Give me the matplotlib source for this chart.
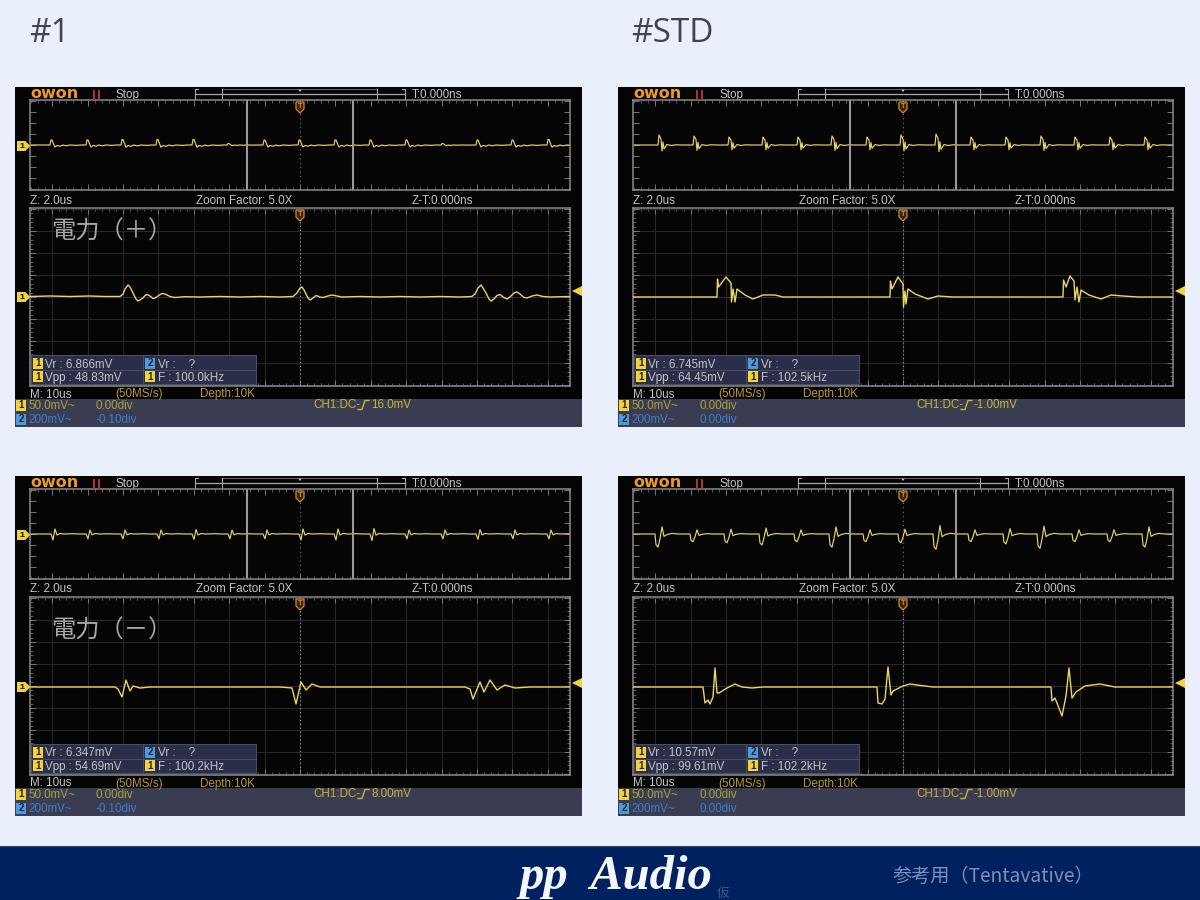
import matplotlib
matplotlib.use("Agg")
import matplotlib.pyplot as plt
from matplotlib.patches import Rectangle, Polygon
from matplotlib.ticker import MultipleLocator

SANS = ["Liberation Sans", "DejaVu Sans"]
CJK = ["Noto Sans CJK JP", "DejaVu Sans"]
plt.rcParams["font.family"] = SANS

# ---------- data ----------
titles = ["#1", "#STD", None, None]
notes = ["電力（＋）", None, "電力（－）", None]
vr_ch1 = ["6.866mV", "6.745mV", "6.347mV", "10.57mV"]
vpp_ch1 = ["48.83mV", "64.45mV", "54.69mV", "99.61mV"]
freq_ch1 = ["100.0kHz", "102.5kHz", "100.2kHz", "102.2kHz"]
ch2_pos = ["-0.10div", "0.00div", "-0.10div", "0.00div"]
trig_lvl = ["16.0mV", "-1.00mV", "8.00mV", "-1.00mV"]

# overview pulses: position on screen, height, shape
ov1_pos = [-248, -212, -177, -142, -106, -71, -35, 0, 36, 71, 107, 143, 178, 213, 249]
ov1_amp = [1, 1, 1.1, 1.1, 1.1, 0.3, 1, 1, 1, 1, 1, 0.3, 1, 1, 1.1]
ov1_sx = [-2, -1, 0, 2, 3, 5, 8, 11, 14, 18, 24, 29]
ov1_sy = [0, 5, 5, 0, -2, -0.5, -1.2, 0, -0.8, 0, -0.4, 0]

ov2_pos = [-243, -208, -173, -139, -104, -70, -35, -1, 34, 69, 104, 139, 173, 208, 243]
ov2_amp = [1, 0.9, 0.8, 0.8, 0.8, 0.9, 0.8, 1, 1.1, 0.8, 0.8, 0.9, 0.8, 0.8, 0.8]
ov2_sx = [-2, -1, 1, 2, 3, 4, 7, 11, 16, 22, 30]
ov2_sy = [0, 10, 6, -6, 3, -4, 0.5, -0.5, 0.2, 0, 0]

ov3_pos = [-247, -212, -177, -141, -106, -70, -35, 1, 36, 72, 107, 143, 178, 213, 249]
ov3_amp = [1, 0.8, 0.8, 0.8, 0.9, 0.8, 0.8, 1, 1, 1.1, 0.8, 0.8, 0.9, 0.8, 0.8]
ov3_sx = [-2, 0, 2, 4, 7, 12, 20, 27]
ov3_sy = [0, -6, 5, -1, 0.5, 0, 0.3, 0]

ov4_pos = [-245, -210, -176, -141, -106, -71, -37, -2, 33, 68, 103, 137, 172, 207, 242]
ov4_amp = [1.2, 0.7, 0.8, 1, 0.7, 1.2, 0.7, 0.8, 1.4, 0.7, 0.9, 1.3, 0.7, 0.7, 1.2]
ov4_sx = [-3, -2, 0, 2, 4, 6, 9, 14, 20, 27]
ov4_sy = [0, -9, -11, -4, 6, -2, -0.5, 0.5, 0, 0]

# zoomed traces, in screen points
big1_x = [-270, -250, -230, -210, -195, -180, -177, -175, -172, -170, -167, -164, -162, -160,
          -157, -155, -153, -150, -147, -145, -142, -139, -137, -134, -130, -125, -115,
          -100, -80, -60, -40, -20, -7, -3, 0, 2, 4, 6, 8, 10, 13, 16, 20, 23, 28, 32, 37,
          42, 60, 80, 100, 120, 140, 160, 172, 175, 178, 181, 183, 186, 189, 191, 194, 197,
          200, 203, 207, 210, 214, 217, 220, 224, 227, 232, 237, 243, 250, 270]
big1_y = [0.5, 1, 0.5, 1, 0.5, 0.5, 3, 8, 12, 10, 4, -2, -4, -3,
          -1, 1.5, 2.5, 1, -1.5, -1, 1, 3, 3.5, 2.5, 0.5, -0.5, 0.3,
          0, 0.5, 0, 0.5, 0, 0.5, 4, 9, 10, 7, 3, -1, -3, -1, 1.5, 0, -0.5, 1, 2, 1,
          0, 0.5, 0, 0.5, 0, 0.5, 0, 0.5, 3, 9, 12, 9, 4, -2, -4, -2, 1.5,
          2.5, 0, -2, 0, 4, 5, 3, -0.5, -1, 1, 2, 0.5, 0, 0.5]

big2_x = [-270, -240, -210, -186, -185.5, -184.5, -177, -172, -171.5, -170, -168, -166, -158,
          -150, -140, -128, -120, -90, -60, -30, -13, -12.5, -11, -5, 0, 0.5, 2, 3, 5,
          12, 25, 35, 50, 80, 110, 140, 160, 160.5, 163, 167, 171, 172, 174, 176, 178,
          186, 198, 208, 220, 235, 270]
big2_y = [0, 0, 0, 0, 18, 10, 20, 14, -5, 8, -5, 8, 2,
          -2, 2, 2, 0, 0, 0, 0, 0, 16, 8, 20, 13, -10, 6, -7, 8,
          3, -2, 1, 0, 0, 0, 0, 0, 17, 10, 21, 16, -3, 10, -5, 7,
          2, -2, 2, 1, 0, 0]

big3_x = [-270, -240, -210, -185, -182, -178, -174, -170, -167, -160, -150, -130, -100, -60,
          -20, -8, -4, 1, 6, 12, 20, 30, 50, 90, 130, 165, 170, 173, 180, 184, 190, 197,
          205, 215, 230, 270]
big3_y = [-1, -1, -1, -1, -3, -11, 6, -5, 0, -2, -1, -1, -1, -1,
          -1, -2, -18, 4, -4, 2, -1, -1, -1, -1, -1, -1, -3, -13, 4, -6, 6, -4,
          1, -2, -1, -1]

big4_x = [-270, -235, -200, -198, -195, -193, -190, -188, -186, -184, -176, -168, -161, -151,
          -140, -100, -60, -26, -25, -21, -18, -15, -12, -10, 0, 7, 14, 30, 70, 110, 148,
          149, 152, 159, 163, 166, 169, 173, 182, 197, 212, 227, 270]
big4_y = [-1, -1, -1, -17, -14, -18, -11, 18, -7, -7, -2, 2, -1, -2,
          -1, -1, -1, -1, -17, -18, -13, 19, -9, -5, 0, 2, 1, -1, -1, -1, -1,
          -15, -12, -30, -10, 18, -12, -6, 0, 2, -1, -1, -1]

# ---------- layout constants ----------
BG = "#EAF0FB"
TXT = "#C4C4C4"
YEL = "#F4D23C"
BLU = "#4A9BE0"
FRAME = "#8A8A8A"
PW, PH = 1200, 900
FS = 8.4

fig = plt.figure(figsize=(12, 9), dpi=100, facecolor=BG)
ax0 = fig.add_axes([0, 0, 1, 1], zorder=1)
ax0.set_xlim(0, PW)
ax0.set_ylim(PH, 0)
ax0.axis("off")
top = fig.add_axes([0, 0, 1, 1], zorder=5)
top.set_xlim(0, PW)
top.set_ylim(PH, 0)
top.axis("off")
top.patch.set_alpha(0)


def screen_axes(x0, y0, x1, y1, major_y, minor_y):
    ax = fig.add_axes([x0 / PW, 1 - y1 / PH, (x1 - x0) / PW, (y1 - y0) / PH], zorder=3)
    ax.set_facecolor("#050505")
    ax.set_xlim(-(x1 - x0) / 2, (x1 - x0) / 2)
    ax.set_ylim(-(y1 - y0) / 2, (y1 - y0) / 2)
    for s in ax.spines.values():
        s.set_color(FRAME)
        s.set_linewidth(1.1)
    ax.xaxis.set_major_locator(MultipleLocator(35.4))
    ax.xaxis.set_minor_locator(MultipleLocator(7.08))
    ax.yaxis.set_major_locator(MultipleLocator(major_y))
    ax.yaxis.set_minor_locator(MultipleLocator(minor_y))
    ax.tick_params(which="major", direction="in", length=4, width=0.7, color="#777777",
                   top=True, bottom=True, left=True, right=True,
                   labelbottom=False, labelleft=False)
    ax.tick_params(which="minor", direction="in", length=2, width=0.6, color="#666666",
                   top=True, bottom=True, left=True, right=True)
    return ax


def overview_trace(pos, amp, sx, sy, base):
    xs, ys = [-270], [base]
    for p, a in zip(pos, amp):
        for dx, dy in zip(sx, sy):
            xs.append(p + dx)
            ys.append(base + a * dy)
    xs.append(270)
    ys.append(base)
    return xs, ys


def ch_box(x, y, label, color):
    top.add_patch(Rectangle((x, y - 5.5), 10, 11, fc=color, ec="none"))
    top.text(x + 5, y + 0.3, label, color="#222222", fontsize=7, fontweight="bold",
             ha="center", va="center")


def marker_left(y):
    top.add_patch(Polygon([(17, y - 5), (25, y - 5), (30, y), (25, y + 5), (17, y + 5)],
                          fc=YEL, ec="none"))
    top.text(21.5, y + 0.2, "1", color="#222222", fontsize=6, fontweight="bold",
             ha="center", va="center")


def marker_T(x, y):
    top.add_patch(Polygon([(x - 4, y - 5), (x + 4, y - 5), (x + 4, y + 2), (x, y + 6), (x - 4, y + 2)],
                          fc="#3A2408", ec="#D08A30", lw=0.9))
    top.text(x, y - 0.8, "T", color="#D08A30", fontsize=5.5, fontweight="bold",
             ha="center", va="center")


def scope(ox, oy, idx, pos, amp, sx, sy, bigx, bigy, base_small, base_big_py, arrow_py, note_dy):
    def X(v):
        return ox + v

    def Y(v):
        return oy + v

    ax0.add_patch(Rectangle((ox, oy), 567, 312, fc="#050505", ec="none"))
    ax0.add_patch(Rectangle((ox, oy + 312), 567, 28, fc="#3A3D52", ec="none"))

    # header
    ax0.text(X(15), Y(6.5), "owon", color="#EE9A22", fontsize=11.5, fontweight="bold",
             ha="left", va="center", family=["DejaVu Sans"])
    top.add_patch(Rectangle((X(78), Y(3)), 1.8, 10, fc="#A83A22", ec="none"))
    top.add_patch(Rectangle((X(83), Y(3)), 1.8, 10, fc="#A83A22", ec="none"))
    ax0.text(X(101), Y(8), "Stop", color=TXT, fontsize=FS, va="center")
    ax0.plot([X(183), X(180), X(180), X(183)], [Y(1.5), Y(1.5), Y(12.5), Y(12.5)], color="#A8A8A8", lw=0.8)
    ax0.plot([X(387), X(390), X(390), X(387)], [Y(1.5), Y(1.5), Y(12.5), Y(12.5)], color="#A8A8A8", lw=0.8)
    ax0.plot([X(180), X(390)], [Y(6.5), Y(6.5)], color="#A8A8A8", lw=0.9)
    ax0.plot([X(207), X(362)], [Y(1.5), Y(1.5)], color="#777777", lw=0.6)
    ax0.plot([X(207), X(207)], [Y(1.5), Y(12.5)], color="#A8A8A8", lw=0.8)
    ax0.plot([X(362), X(362)], [Y(1.5), Y(12.5)], color="#A8A8A8", lw=0.8)
    ax0.add_patch(Polygon([(X(283), Y(2)), (X(287), Y(2)), (X(285), Y(5))], fc="#CFCFCF", ec="none"))
    ax0.text(X(397), Y(8), "T:0.000ns", color=TXT, fontsize=FS, va="center")

    # overview screen
    s = screen_axes(X(15), Y(13), X(555), Y(103), 11, 11)
    s.axvline(0, color="#7A7A7A", lw=0.8, ls=(0, (1, 3)))
    tx, ty = overview_trace(pos, amp, sx, sy, base_small)
    s.plot(tx, ty, color="#E9D267", lw=0.85)
    s.axvline(-53, color="#9A9A9A", lw=1.5)
    s.axvline(53, color="#9A9A9A", lw=1.5)

    # row between
    ax0.text(X(15), Y(113.5), "Z: 2.0us", color=TXT, fontsize=FS, va="center")
    ax0.text(X(229), Y(113.5), "Zoom Factor: 5.0X", color=TXT, fontsize=FS, va="center", ha="center")
    ax0.text(X(427), Y(113.5), "Z-T:0.000ns", color=TXT, fontsize=FS, va="center", ha="center")

    # zoomed screen
    b = screen_axes(X(15), Y(121), X(555), Y(299), 22, 4.4)
    b.grid(True, which="major", color="#2A2A2A", lw=0.7)
    b.axvline(0, color="#9A9A9A", lw=0.8, ls=(0, (1, 2.5)))
    b.axhline(0, color="#444444", lw=0.6, ls=(0, (1, 2.5)))
    b.plot(bigx, bigy, color="#EDD561", lw=1.0, zorder=4)

    # measurement table
    top.add_patch(Rectangle((X(16), Y(268)), 225, 29, fc="#2A2E48", ec="#4A4E68", lw=0.7))
    top.plot([X(16), X(241)], [Y(282.5), Y(282.5)], color="#555970", lw=0.5)
    top.plot([X(128), X(128)], [Y(268), Y(297)], color="#555970", lw=0.5)
    ch_box(X(18), Y(276), "1", YEL)
    top.text(X(30), Y(277.5), "Vr : " + vr_ch1[idx], color=TXT, fontsize=FS, va="center")
    ch_box(X(130), Y(276), "2", BLU)
    top.text(X(143), Y(277.5), "Vr :    ?", color=TXT, fontsize=FS, va="center")
    ch_box(X(18), Y(289.5), "1", YEL)
    top.text(X(30), Y(291), "Vpp : " + vpp_ch1[idx], color=TXT, fontsize=FS, va="center")
    ch_box(X(130), Y(289.5), "1", YEL)
    top.text(X(143), Y(291), "F : " + freq_ch1[idx], color=TXT, fontsize=FS, va="center")

    # status rows
    ax0.text(X(15), Y(307.5), "M: 10us", color=TXT, fontsize=FS, va="center")
    ax0.text(X(100), Y(307.5), "(50MS/s)", color="#B8982E", fontsize=FS, va="center")
    ax0.text(X(185), Y(307.5), "Depth:10K", color="#B8982E", fontsize=FS, va="center")
    ch_box(X(1), Y(318), "1", YEL)
    ax0.text(X(13), Y(319), "50.0mV~", color="#A8A03C", fontsize=FS, va="center")
    ax0.text(X(81), Y(319), "0.00div", color="#A8A03C", fontsize=FS, va="center")
    ch_box(X(1), Y(332), "2", BLU)
    ax0.text(X(13), Y(333), "200mV~", color="#3F7CC8", fontsize=FS, va="center")
    ax0.text(X(81), Y(333), ch2_pos[idx], color="#3F7CC8", fontsize=FS, va="center")
    ax0.text(X(298), Y(318), "CH1:DC-", color="#C9B23A", fontsize=FS, va="center")
    ax0.plot([X(343), X(347), X(350), X(354)], [Y(322.5), Y(322.5), Y(313.5), Y(313.5)], color="#C9B23A", lw=1)
    ax0.text(X(356), Y(318), trig_lvl[idx], color="#C9B23A", fontsize=FS, va="center")

    # markers
    marker_left(oy + 59)
    marker_left(base_big_py)
    marker_T(X(285), Y(20))
    marker_T(X(285), Y(128))
    top.add_patch(Polygon([(X(567), arrow_py - 5), (X(567), arrow_py + 5), (X(557), arrow_py)],
                          fc=YEL, ec="none"))

    if notes[idx]:
        top.text(X(36), Y(note_dy), notes[idx], color="#A8A8A8", fontsize=17.5, va="center",
                 family=CJK)


# ---------- titles ----------
ax0.text(29, 33, titles[0], color="#3F4450", fontsize=24, va="center", family=["Open Sans"])
ax0.text(631, 33, titles[1], color="#3F4450", fontsize=24, va="center", family=["Open Sans"])

scope(15, 87, 0, ov1_pos, ov1_amp, ov1_sx, ov1_sy, big1_x, big1_y, 0, 297, 291, 145)
scope(618, 87, 1, ov2_pos, ov2_amp, ov2_sx, ov2_sy, big2_x, big2_y, 0, 297, 291, 145)
scope(15, 476, 2, ov3_pos, ov3_amp, ov3_sx, ov3_sy, big3_x, big3_y, 0, 687, 683, 155)
scope(618, 476, 3, ov4_pos, ov4_amp, ov4_sx, ov4_sy, big4_x, big4_y, 0, 687, 683, 155)

# ---------- footer ----------
ax0.add_patch(Rectangle((0, 846), 1200, 54, fc="#00215F", ec="none"))
ax0.plot([0, 1200], [845.5, 845.5], color="#3A4660", lw=0.8)
ax0.text(519, 877, "pp  Audio", color="#F4F6FA", fontsize=35, style="italic", fontweight="bold",
         va="center", family=["Liberation Serif"])
ax0.text(717, 893, "仮", color="#3F5A8E", fontsize=9, va="center", family=CJK)
ax0.text(893, 876, "参考用（Tentavative）", color="#7E8FB8", fontsize=13.8, va="center", family=CJK)

fig.savefig("out.png", dpi=100, facecolor=BG)
